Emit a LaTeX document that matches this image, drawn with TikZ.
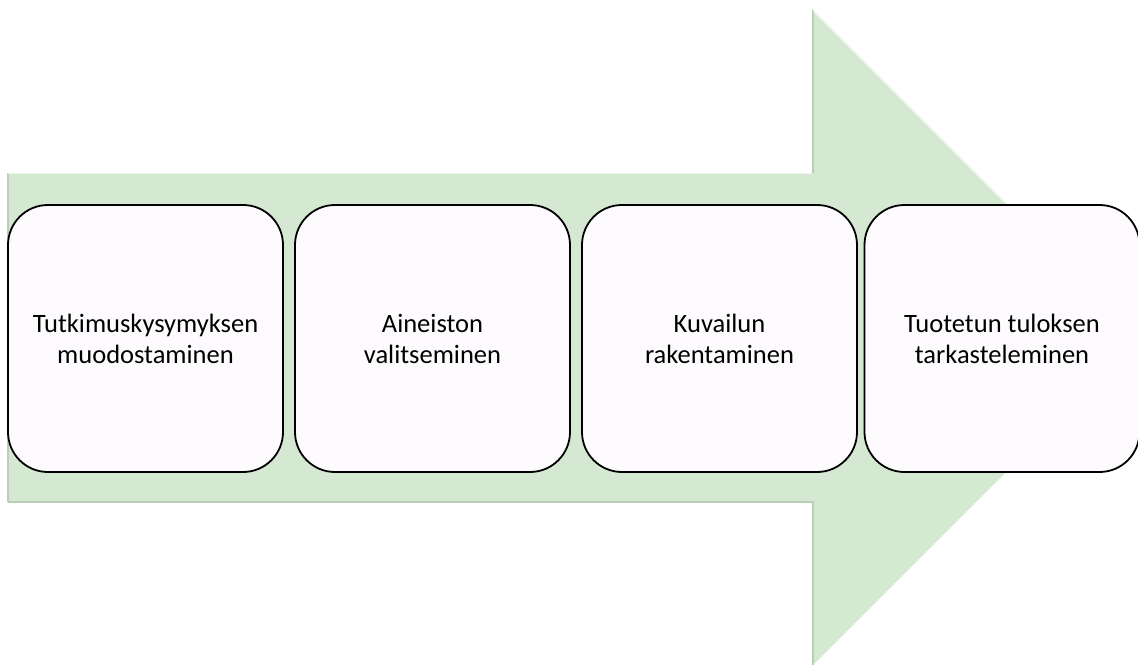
\documentclass[tikz,border=0pt]{standalone}
\usepackage{fontspec}
\setmainfont{Carlito}
\definecolor{arrowfill}{HTML}{D5E8D2}
\definecolor{arrowdark}{HTML}{B9CFB6}
\definecolor{arrowlight}{HTML}{EEF8EC}
\definecolor{boxfill}{HTML}{FDFBFE}
\tikzset{
  stepbox/.style={draw=black, line width=1.8pt, fill=boxfill, rounded corners=40pt,
    minimum width=275pt, minimum height=267pt, align=center, inner sep=4pt,
    font=\fontsize{26.5}{31}\selectfont},
}
\begin{document}
\begin{tikzpicture}[x=1pt,y=-1pt]
\useasboundingbox (0,0) rectangle (1138,666);
% big process arrow
\fill[arrowfill] (8,173) -- (813,173) -- (813,10) -- (1140.5,337.5) -- (813,665)
  -- (813,502) -- (8,502) -- cycle;
% soft bevel along the arrow outline
\draw[arrowdark, line width=1.2pt] (8,502) -- (8,173);
\draw[arrowlight, line width=1.5pt] (8,173.5) -- (812,173.5);
\draw[arrowdark, line width=1.2pt] (813,173) -- (813,10);
\draw[arrowlight, line width=1.5pt] (813.5,11) -- (1140,337.5);
\draw[arrowdark, line width=1.2pt] (8,502) -- (813,502) -- (813,665);
% process steps
\node[stepbox] (s1) at (145.5,338.5) {Tutkimuskysymyksen\\muodostaminen};
\node[stepbox] (s2) at (432.5,338.5) {Aineiston\\valitseminen};
\node[stepbox] (s3) at (719.5,338.5) {Kuvailun\\rakentaminen};
\node[stepbox] (s4) at (1002,338.5) {Tuotetun tuloksen\\tarkasteleminen};
\end{tikzpicture}
\end{document}
